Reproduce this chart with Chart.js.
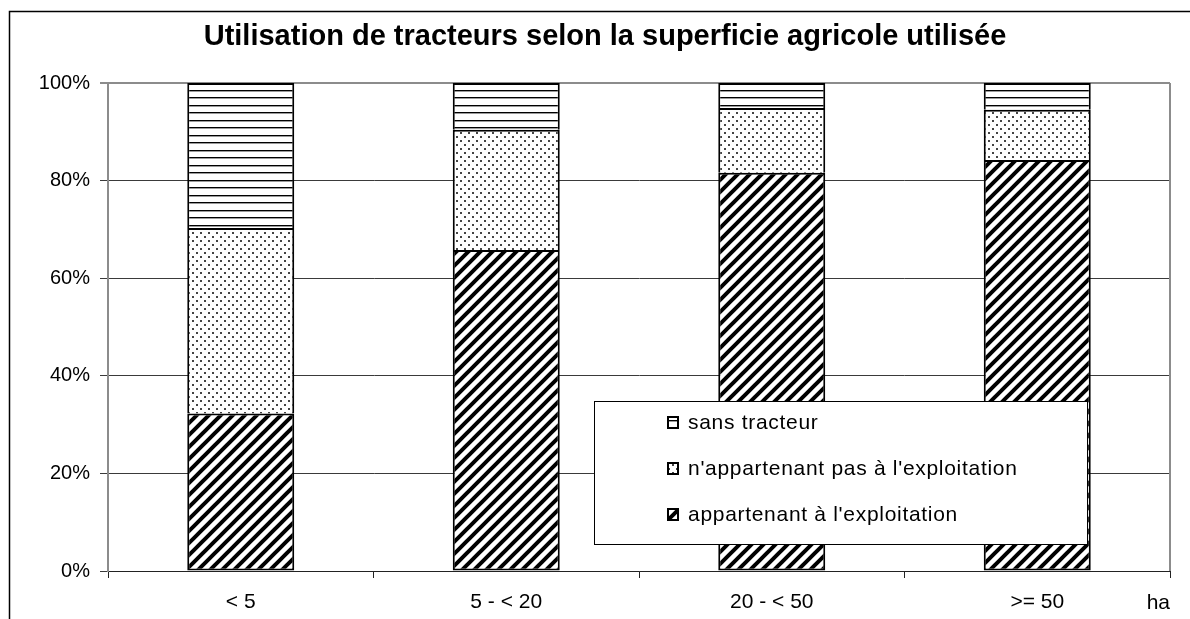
<!DOCTYPE html>
<html>
<head>
<meta charset="utf-8">
<script src="https://cdn.jsdelivr.net/npm/chart.js@4.4.1/dist/chart.umd.min.js"></script>
<style>
  html, body { margin: 0; padding: 0; background: #fff; }
  canvas { display: block; }
</style>
</head>
<body>
<canvas id="myChart" width="1190" height="619"></canvas>
<script>
// values, in percent of farms per size class
const categories = ["< 5", "5 - < 20", "20 - < 50", ">= 50"];
const appartenant = [32.3, 65.8, 81.6, 84.2];
const nonAppartenant = [38.0, 24.6, 13.3, 10.3];
const sansTracteur = [29.7, 9.6, 5.1, 5.5];
const yTicks = [0, 20, 40, 60, 80, 100];

const fontFamily = "'Liberation Sans', Arial, sans-serif";

function makePattern(w, h, draw) {
  let c = document.createElement("canvas");
  c.width = w;
  c.height = h;
  let p = c.getContext("2d");
  p.fillStyle = "#fff";
  p.fillRect(0, 0, w, h);
  draw(p);
  return p.createPattern(c, "repeat");
}

// diagonal "/" stripes
const hatchPattern = makePattern(12, 12, (p) => {
  p.strokeStyle = "#000";
  p.lineWidth = 4;
  p.beginPath();
  p.moveTo(-6, 18); p.lineTo(18, -6);
  p.moveTo(-6, 6); p.lineTo(6, -6);
  p.moveTo(6, 18); p.lineTo(18, 6);
  p.stroke();
});

// small dots
const dotPattern = makePattern(8, 8, (p) => {
  p.fillStyle = "#444";
  p.fillRect(0, 0, 2, 2);
  p.fillRect(4, 4, 2, 2);
});

// horizontal lines
const linePattern = makePattern(4, 15, (p) => {
  p.fillStyle = "#000";
  p.fillRect(0, 0, 4, 1);
  p.fillRect(0, 7, 4, 1);
  p.fillStyle = "#9a9a9a";
  p.fillRect(0, 1, 4, 1);
  p.fillRect(0, 8, 4, 1);
});

// frame round the whole chart and the right edge of the plot area
const framePlugin = {
  id: "frame",
  beforeDraw(chart) {
    let c = chart.ctx;
    c.save();
    c.strokeStyle = "#000";
    c.lineWidth = 1.5;
    c.beginPath();
    c.moveTo(9.5, 619);
    c.lineTo(9.5, 11.5);
    c.lineTo(1190, 11.5);
    c.stroke();
    c.restore();
  },
  beforeDatasetsDraw(chart) {
    let a = chart.chartArea;
    let c = chart.ctx;
    c.save();
    c.strokeStyle = "#8c8c8c";
    c.lineWidth = 2;
    c.beginPath();
    c.moveTo(a.right, a.top);
    c.lineTo(a.right, a.bottom);
    c.stroke();
    c.restore();
  },
};

// legend box drawn over the plot, like the original
const boxLegend = {
  id: "boxLegend",
  afterDraw(chart) {
    let c = chart.ctx;
    c.save();
    c.fillStyle = "#fff";
    c.strokeStyle = "#000";
    c.lineWidth = 1;
    c.fillRect(594.5, 401.5, 493, 143);
    c.strokeRect(594.5, 401.5, 493, 143);

    let sets = chart.data.datasets.slice().reverse();
    let rows = [423, 469, 515];
    sets.forEach((ds, i) => {
      let y = rows[i];
      c.fillStyle = ds.backgroundColor;
      c.fillRect(668, y - 6, 10, 11);
      c.lineWidth = 2;
      c.strokeStyle = "#000";
      c.strokeRect(668, y - 6, 10, 11);
      c.fillStyle = "#000";
      c.font = "21px " + fontFamily;
      c.letterSpacing = "0.7px";
      c.textBaseline = "middle";
      c.textAlign = "left";
      c.fillText(ds.label, 688, y);
    });
    c.restore();
  },
};

const ctx = document.getElementById("myChart");

new Chart(ctx, {
  type: "bar",
  data: {
    labels: categories,
    datasets: [
      {
        label: "appartenant à l'exploitation",
        data: appartenant,
        backgroundColor: hatchPattern,
        borderColor: "#000",
        borderWidth: 2,
        borderSkipped: false,
      },
      {
        label: "n'appartenant pas à l'exploitation",
        data: nonAppartenant,
        backgroundColor: dotPattern,
        borderColor: "#000",
        borderWidth: 2,
        borderSkipped: "start",
      },
      {
        label: "sans tracteur",
        data: sansTracteur,
        backgroundColor: linePattern,
        borderColor: "#000",
        borderWidth: 2,
        borderSkipped: "start",
      },
    ],
  },
  options: {
    responsive: false,
    animation: false,
    devicePixelRatio: 1,
    categoryPercentage: 1,
    barPercentage: 0.403,
    // left padding only moves the title centre; the y axis width makes up for it
    layout: { padding: { left: 40, right: 20, top: 0, bottom: 0 } },
    plugins: {
      legend: { display: false },
      tooltip: { enabled: false },
      title: {
        display: true,
        text: "Utilisation de tracteurs selon la superficie agricole utilisée",
        color: "#000",
        font: { family: fontFamily, size: 29, weight: "bold" },
        padding: { top: 20, bottom: 28.2 },
      },
    },
    scales: {
      x: {
        stacked: true,
        grid: {
          offset: true,
          drawOnChartArea: false,
          drawTicks: true,
          tickLength: 7,
          color: "#222",
          lineWidth: 1,
        },
        border: { color: "#222", width: 1 },
        ticks: {
          color: "#000",
          font: { family: fontFamily, size: 21 },
          padding: 12,
          maxRotation: 0,
        },
        title: {
          display: true,
          text: "ha",
          align: "end",
          color: "#000",
          font: { family: fontFamily, size: 21 },
          padding: { top: 0, bottom: 3 },
        },
        afterFit: (scale) => {
          scale.height = 48;
        },
      },
      y: {
        stacked: true,
        min: 0,
        max: 100,
        afterBuildTicks: (scale) => {
          scale.ticks = yTicks.map((v) => ({ value: v }));
        },
        grid: {
          tickLength: 8,
          color: (c) => (c.tick && c.tick.value === 100 ? "#8c8c8c" : "#3a3a3a"),
          lineWidth: (c) => (c.tick && c.tick.value === 100 ? 2 : 1),
        },
        border: { color: "#8c8c8c", width: 2 },
        ticks: {
          color: "#000",
          font: { family: fontFamily, size: 20 },
          padding: 10,
          callback: (v) => v + "%",
        },
        afterFit: (scale) => {
          scale.width = 68;
        },
      },
    },
  },
  plugins: [framePlugin, boxLegend],
});
</script>
</body>
</html>
